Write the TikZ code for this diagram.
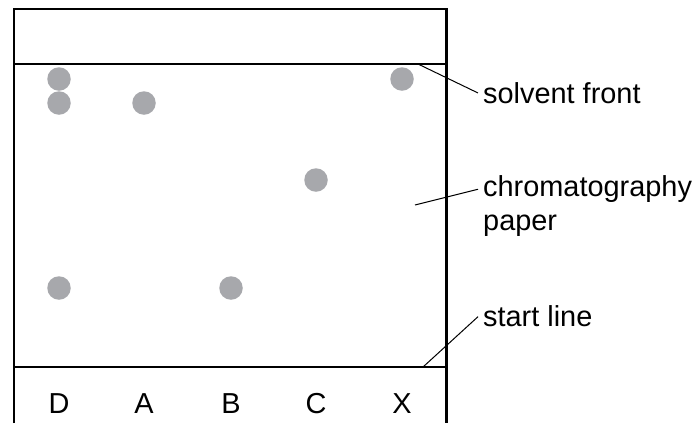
\documentclass[tikz,border=0pt]{standalone}
\usepackage{fontspec}
\setmainfont{Liberation Sans}
\definecolor{spotgray}{RGB}{167,168,172}

\begin{document}
\begin{tikzpicture}[x=1bp,y=-1bp,font=\fontsize{29}{33}\selectfont]
\useasboundingbox (0,0) rectangle (699,423);
\tikzset{spot/.style={shape=circle,fill=spotgray,inner sep=0pt,minimum size=23.5bp},
  lbl/.style={inner sep=0pt,anchor=base west},
  lane/.style={inner sep=0pt,anchor=base}}
% paper and lines
\draw[line width=2.2bp] (14,423)--(14,9)--(446.5,9)--(446.5,423);
\draw[line width=2.2bp] (14,64)--(446.5,64);
\draw[line width=2.2bp] (14,367)--(446.5,367);
% spots
\node(d1)[spot] at (59,79){};
\node(d2)[spot] at (59,103){};
\node(d3)[spot] at (59,288){};
\node(a1)[spot] at (144,103){};
\node(b1)[spot] at (231,288){};
\node(c1)[spot] at (316,180){};
\node(x1)[spot] at (402,79){};
% lane letters
\node(ld)[lane] at (59,413){D};
\node(la)[lane] at (144,413){A};
\node(lb)[lane] at (231,413){B};
\node(lc)[lane] at (316,413){C};
\node(lx)[lane] at (402,413){X};
% labels
\node(sf)[lbl] at (483,103.3){solvent front};
\node(cp)[lbl] at (483,196.7){chromatography};
\node(cp2)[lbl] at (483,230){paper};
\node(sl)[lbl] at (483,326){start line};
\coordinate(sftip) at (418,64);
\coordinate(cptip) at (415,205);
\coordinate(sltip) at (423,367);
\draw[line width=1bp] (sftip)--([xshift=-5bp]sf.west);
\draw[line width=1bp] (cptip)--([xshift=-5bp]cp.west);
\draw[line width=1bp] (sltip)--([xshift=-5bp,yshift=-1bp]sl.west);
\end{tikzpicture}
\end{document}
